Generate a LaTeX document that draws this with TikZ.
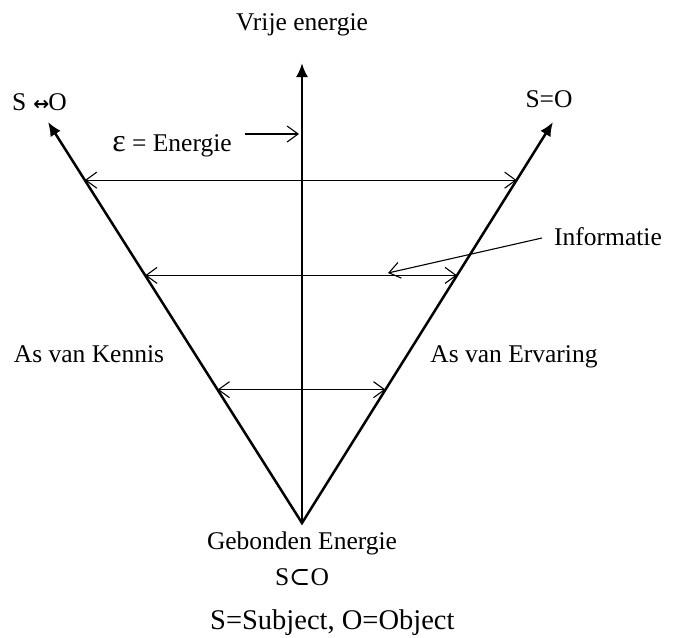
\documentclass[tikz,border=0pt]{standalone}
\usepackage{fontspec}
\setmainfont{Liberation Serif}
\newfontfamily\symfont{DejaVu Serif}
\newfontfamily\arrfont{DejaVu Sans}
\usetikzlibrary{arrows.meta,calc}
\begin{document}
\begin{tikzpicture}[x=1pt,y=-1pt,
  axisline/.style={line width=2.5pt, line join=miter},
  axtip/.tip={Latex[length=14pt,width=12pt]},
  barb/.tip={Straight Barb[length=11pt,width=16pt]},
  twoway/.style={line width=1.1pt, {barb}-{barb}},
  oneway/.style={line width=1.1pt, -{barb}},
  lbl/.style={font=\fontsize{25.5}{27}\selectfont, inner sep=0pt, anchor=base}
]
\useasboundingbox (0,0) rectangle (677,637);
\coordinate (apex) at (302,523);
\coordinate (top) at (302,63);
\coordinate (lt) at (48,122);
\coordinate (rt) at (553,122);
% axes
\draw[axisline, {axtip}-{axtip}] (lt) -- (apex) -- (rt);
\draw[axisline, -{axtip}] (apex) -- (top);
% horizontal arrows
\coordinate (a1l) at ($(apex)!0.855!(lt)$);
\coordinate (a1r) at ($(apex)!0.855!(rt)$);
\coordinate (a2l) at ($(apex)!0.6175!(lt)$);
\coordinate (a2r) at ($(apex)!0.6175!(rt)$);
\coordinate (a3l) at ($(apex)!0.3325!(lt)$);
\coordinate (a3r) at ($(apex)!0.3325!(rt)$);
\draw[twoway] (a1l) -- (a1r);
\draw[twoway] (a2l) -- (a2r);
\draw[twoway] (a3l) -- (a3r);
% labels
\node[lbl] (vrije) at (302,30) {Vrije energie};
\node[lbl, anchor=base west] (sho) at (12,110) {S\hspace{7pt}{\arrfont\bfseries\fontsize{19}{19}\selectfont ↔}\hspace{-1pt}O};
\node[lbl] (seqo) at (549,107) {S=O};
\node[lbl] (epsE) at (172,151) {{\fontsize{32}{32}\selectfont ε} = Energie};
\node[lbl] (info) at (608,245) {Informatie};
\node[lbl] (kennis) at (89,362) {As van Kennis};
\node[lbl] (ervaring) at (514,362) {As van Ervaring};
\node[lbl] (gebonden) at (302,549) {Gebonden Energie};
\node[lbl] (sco) at (302,585) {S{\symfont ⊂}O};
\node[font=\fontsize{28.5}{30}\selectfont, inner sep=0pt, anchor=base west] (legend) at (210,629) {S=Subject, O=Object};
% pointer arrows
\coordinate (eA) at (299,134);
\coordinate (iA) at (388,273);
\draw[oneway] ([xshift=13pt]epsE.east |- eA) -- (eA);
\draw[oneway] ([xshift=-12pt]info.west |- 0,238) -- (iA);
\end{tikzpicture}
\end{document}
